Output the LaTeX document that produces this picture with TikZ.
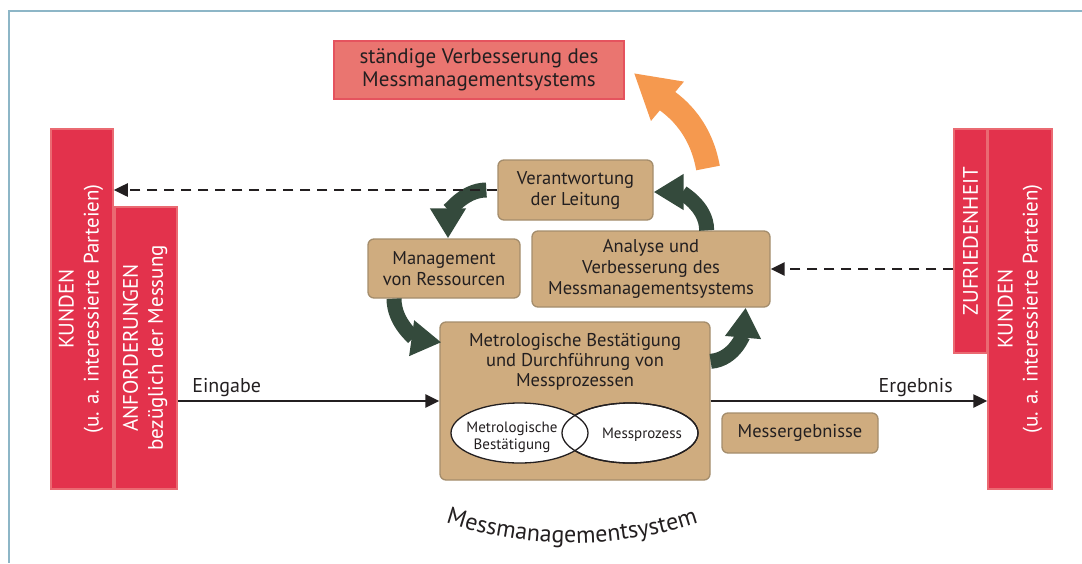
\documentclass[tikz,border=0pt]{standalone}
\usepackage{fontspec}
\setmainfont{PT Sans}
\usetikzlibrary{shapes.geometric,arrows.meta,decorations.text,positioning}

\definecolor{textcol}{HTML}{231F20}
\definecolor{framecol}{HTML}{8DB6C7}
\definecolor{redfill}{HTML}{E3324C}
\definecolor{rededge}{HTML}{EA6A72}
\definecolor{topfill}{HTML}{EA7570}
\definecolor{topedge}{HTML}{E5535E}
\definecolor{boxfill}{HTML}{CFAC7F}
\definecolor{boxedge}{HTML}{A48D6C}
\definecolor{loopgreen}{HTML}{344A3C}
\definecolor{improve}{HTML}{F5994F}

\newcommand{\mmsfont}{\fontsize{24}{24}\selectfont}

\begin{document}
\begin{tikzpicture}[x=1pt,y=1pt,font=\fontsize{18.5}{21}\selectfont,
  box/.style={draw=boxedge,fill=boxfill,rounded corners=6pt,line width=1.3pt,
    inner sep=0pt,align=center,text=textcol},
  redbar/.style={draw=rededge,fill=redfill,line width=1.5pt,inner sep=0pt},
  bartext/.style={rotate=90,align=center,text=white,font=\fontsize{21}{25}\selectfont},
  loop/.style={line width=15pt,draw=loopgreen,-{Triangle[width=34pt,length=30pt]}},
  flow/.style={line width=2.5pt,draw=textcol,-{Triangle[width=13pt,length=14pt]}},
  dashline/.style={flow,dash pattern=on 10pt off 7pt}]
  \tikzstyle{venn} = [ellipse,draw=textcol,fill=white,line width=1.3pt,inner sep=0pt]
  \tikzstyle{small} = [text=textcol,align=center,font=\fontsize{15}{17}\selectfont]
  \tikzstyle{flowlabel} = [text=textcol,font=\fontsize{20}{22}\selectfont]
  \useasboundingbox (0,0) rectangle (1082,-563);
  \draw[framecol,line width=2pt] (1082,-10.5) -- (8.7,-10.5) -- (8.7,-563);

  \node (top) [draw=topedge,fill=topfill,line width=1.5pt,minimum width=290pt,minimum height=58pt,
    inner sep=0pt,align=center,text=textcol,font=\fontsize{21}{23}\selectfont] at (479,-70)
    {ständige Verbesserung des\\Messmanagementsystems};

  \node (kl) [redbar,minimum width=62pt,minimum height=360pt] at (82,-309) {};
  \node (kl_t) [bartext] at ([xshift=-1pt]kl.center) {KUNDEN\\(u. a. interessierte Parteien)};
  \node (anf) [redbar,minimum width=62pt,minimum height=282pt] at (146,-348) {};
  \node (anf_t) [bartext] at ([xshift=-1pt]anf.center) {ANFORDERUNGEN\\bezüglich der Messung};
  \node (zuf) [redbar,minimum width=33pt,minimum height=224pt] at (970.5,-241) {};
  \node (zuf_t) [bartext] at (zuf) {ZUFRIEDENHEIT};
  \node (kr) [redbar,minimum width=64pt,minimum height=360pt] at (1020,-309) {};
  \node (kr_t) [bartext] at (kr) {KUNDEN\\(u. a. interessierte Parteien)};

  \node (ver) [box,minimum width=155pt,minimum height=60pt] at (575.5,-190) {Verantwortung\\der Leitung};
  \node (mgmt) [box,minimum width=152pt,minimum height=59pt] at (444,-268.5) {Management\\von Ressourcen};
  \node (ana) [box,minimum width=238pt,minimum height=76pt] at (651,-269)
    {Analyse und\\Verbesserung des\\Messmanagementsystems};
  \node (metro) [box,minimum width=270pt,minimum height=158pt] at (575,-401) {};
  \node (metro_t) [text=textcol,align=center,font=\fontsize{18.5}{20}\selectfont] at (575,-362)
    {Metrologische Bestätigung\\und Durchführung von\\Messprozessen};
  \node (erg) [box,minimum width=156pt,minimum height=40pt] at (800,-433) {Messergebnisse};

  \node (e_2) [venn,minimum width=136pt,minimum height=60pt] at (630,-433) {};
  \node (e_1) [venn,minimum width=137pt,minimum height=60pt] at (519.5,-433) {};
  \draw[textcol,line width=1.3pt] (e_2.center) ellipse [x radius=68pt,y radius=30pt];
  \node (e_1t) [small] at (512,-437) {Metrologische\\Bestätigung};
  \node (e_2t) [small] at (642,-435) {Messprozess};

  \draw[loop] ([xshift=-11pt]ver.west) to[out=180,in=90] ([xshift=4pt]mgmt.north);
  \draw[loop] ([xshift=-50pt]mgmt.south) to[out=-90,in=172] ([xshift=2pt,yshift=-21pt]metro.north west);
  \draw[loop] ([yshift=-40pt]metro.north east) to[out=5,in=-95] ([xshift=-25pt]ana.south east);
  \draw[loop] ([xshift=-64pt]ana.north east) to[out=90,in=0] ([yshift=-2pt]ver.east);
  \coordinate (o_s) at (708,-168);
  \draw[line width=24pt,draw=improve,-{Triangle[width=48pt,length=44pt]}]
    (o_s) to[out=100,in=-40] ([xshift=9pt,yshift=-3pt]top.east);

  \draw[dashline] (ver.west) -- (ver.west -| kl.east);
  \draw[dashline] (zuf.west |- ana.east) -- (ana.east);
  \draw[flow] (anf.east |- metro.west) -- node[pos=0,anchor=base west,xshift=10pt,yshift=9pt,flowlabel] {Eingabe} (metro.west);
  \draw[flow] (metro.east) -- node[pos=1,anchor=base east,xshift=-30pt,yshift=9pt,flowlabel] {Ergebnis} (metro.east -| kr.west);

  \path[decorate,decoration={text along path,text align=center,text color=textcol,
    text={|\mmsfont|Messmanagementsystem}}]
    (572,-143) ++(248:400) arc[start angle=248,end angle=292,radius=400];
\end{tikzpicture}
\end{document}
